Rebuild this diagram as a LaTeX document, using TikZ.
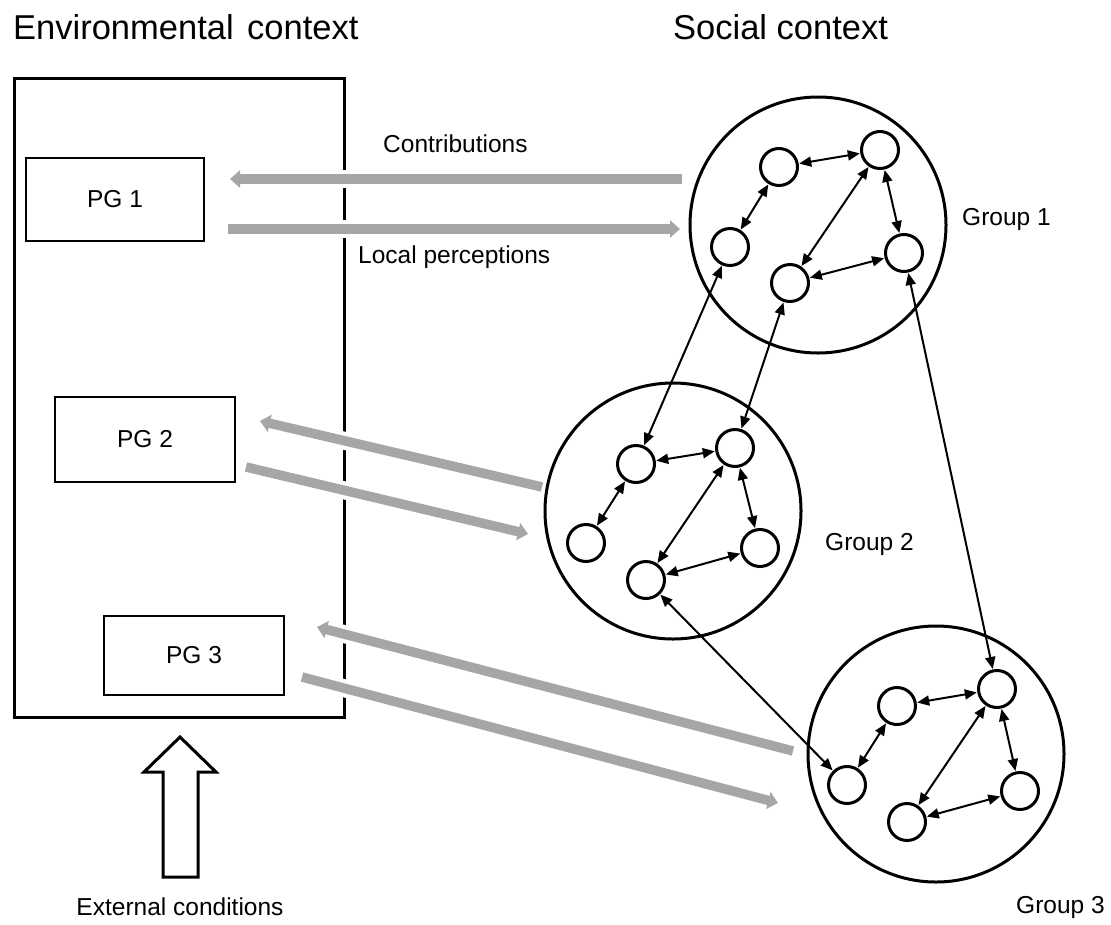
\documentclass[tikz,border=0pt]{standalone}
\usepackage{fontspec}
\setmainfont{Liberation Sans}
\usetikzlibrary{arrows.meta}
\definecolor{flowgray}{RGB}{166,166,166}
\begin{document}
\begin{tikzpicture}[x=1pt,y=-1pt,
  title/.style={anchor=base west,inner sep=0pt,font=\fontsize{34.5}{40}\selectfont},
  label/.style={anchor=base west,inner sep=0pt,font=\fontsize{24.5}{29}\selectfont},
  pgbox/.style={draw,line width=2.5pt,rectangle,inner sep=0pt,font=\fontsize{24.5}{29}\selectfont},
  groupring/.style={draw,circle,line width=3pt,inner sep=0pt,minimum size=256pt},
  member/.style={draw,circle,line width=3pt,inner sep=0pt,minimum size=37pt},
  link/.style={line width=2pt,{Triangle[length=12pt,width=10pt]}-{Triangle[length=12pt,width=10pt]},shorten <=0.5pt,shorten >=0.5pt},
  halo/.style={white,line width=18pt},
  flow/.style={flowgray,line width=9.5pt,-{Triangle[length=10pt,width=17pt]}},
]
\useasboundingbox (0,0) rectangle (1111,924);

% headings
\node[title] (envtitle) at (13,39) {Environmental\hspace{4pt} context};
\node[title] (soctitle) at (673,39) {Social context};

% environmental context frame and public goods
\node[draw,line width=3pt,rectangle,minimum width=330pt,minimum height=639pt,inner sep=0pt] (env) at (179,397.5) {};
\node[pgbox,minimum width=178pt,minimum height=83pt] (pg1) at (115,199.5) {PG 1};
\node[pgbox,minimum width=180pt,minimum height=85pt] (pg2) at (145,439.5) {PG 2};
\node[pgbox,minimum width=180pt,minimum height=79pt] (pg3) at (194,655.5) {PG 3};

% external conditions arrow
\node[label,anchor=base] (extlabel) at (180,915) {External conditions};
\draw[line width=3pt,line join=miter,fill=white] (163,877) -- (163,772) -- (144,772) -- (180,737) -- (216,772) -- (198,772) -- (198,877) -- cycle;

% end points of the flows
\coordinate (c1s) at (682,179);  \coordinate (c1e) at (230,179);
\coordinate (p1s) at (228,229);  \coordinate (p1e) at (680,229);
\coordinate (c2s) at (542,487);  \coordinate (c2e) at (260,421);
\coordinate (p2s) at (246,467);  \coordinate (p2e) at (528,534);
\coordinate (c3s) at (793,751);  \coordinate (c3e) at (317,627);
\coordinate (p3s) at (302,677);  \coordinate (p3e) at (778,803);

% flows between public goods and groups
\foreach \a/\b in {c1s/c1e,p1s/p1e,c2s/c2e,p2s/p2e,c3s/c3e,p3s/p3e}{
  \draw[halo] (\a) -- (\b);
}
\foreach \a/\b in {c1s/c1e,p1s/p1e,c2s/c2e,p2s/p2e,c3s/c3e,p3s/p3e}{
  \draw[flow] (\a) -- (\b);
}
\node[label] (contrib) at (383,152) {Contributions};
\node[label] (percep) at (358,263) {Local perceptions};

% groups
\node[groupring] (grp1) at (818,225) {};
\node[groupring] (grp2) at (673,511) {};
\node[groupring] (grp3) at (936,754) {};
\node[label] (grp1label) at (962,225) {Group 1};
\node[label] (grp2label) at (825,550) {Group 2};
\node[label] (grp3label) at (1016,913) {Group 3};

% members of group 1
\node[member] (g1a) at (779,167) {};
\node[member] (g1b) at (880,150) {};
\node[member] (g1c) at (730,247) {};
\node[member] (g1d) at (790,283) {};
\node[member] (g1e) at (904,253) {};
% members of group 2
\node[member] (g2a) at (636,464) {};
\node[member] (g2b) at (735,448) {};
\node[member] (g2c) at (586,543) {};
\node[member] (g2d) at (646,580) {};
\node[member] (g2e) at (760,548) {};
% members of group 3
\node[member] (g3a) at (897,706) {};
\node[member] (g3b) at (997,689) {};
\node[member] (g3c) at (847,785) {};
\node[member] (g3d) at (907,822) {};
\node[member] (g3e) at (1020,791) {};

% ties inside each group
\foreach \g in {1,2,3}{
  \draw[link] (g\g a) -- (g\g b);
  \draw[link] (g\g a) -- (g\g c);
  \draw[link] (g\g b) -- (g\g d);
  \draw[link] (g\g b) -- (g\g e);
  \draw[link] (g\g d) -- (g\g e);
}
% ties between groups
\draw[link] (g1c) -- (g2a);
\draw[link] (g1d) -- (g2b);
\draw[link] (g1e) -- (g3b);
\draw[link] (g2d) -- (g3c);
\end{tikzpicture}
\end{document}
